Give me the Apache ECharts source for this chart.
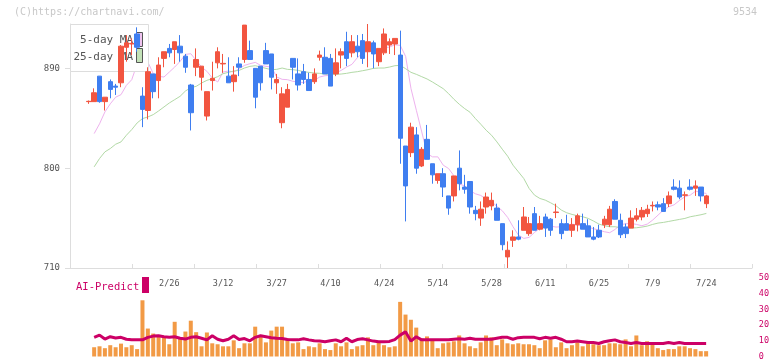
<!DOCTYPE html>
<html>
<head>
<meta charset="utf-8">
<script src="https://cdn.jsdelivr.net/npm/echarts@6/dist/echarts.min.js"></script>
<style>
  html, body { margin: 0; padding: 0; background: #fff; }
  #chart { width: 772px; height: 361px; }
</style>
</head>
<body>
<div id="chart"></div>
<script>
// trading days shown (2026), month -> days
var tradeDays = {
    2: [3,4,5,6,9,10,12,13,16,17,18,19,20,24,25,26,27],
    3: [2,3,4,5,6,9,10,11,12,13,16,17,18,19,23,24,25,26,27,30,31],
    4: [1,2,3,6,7,8,9,10,13,14,15,16,17,20,21,22,23,24,27,28,30],
    5: [1,7,8,11,12,13,14,15,18,19,20,21,22,25,26,27,28,29],
    6: [1,2,3,4,5,8,9,10,11,12,15,16,17,18,19,22,23,24,25,26,29,30],
    7: [1,2,3,6,7,8,9,10,13,14,15,16,17,21,22,23,24]
};
// empty slots on both sides of the chart
var padBefore = ['1/29','1/30','2/2'];
var padAfter = ['7/27','7/28','7/29','7/30','7/31','8/3','8/4','8/5'];
var labelDates = ['2/26','3/12','3/27','4/10','4/24','5/14','5/28','6/11','6/25','7/9','7/24'];

// [open, close, low, high]
var ohlc = [
    [860,860.3,858,861],[860,868,860,872],[883,860,859,883],[860,864,852,864],[878,871,863,880],
    [874,873,866,876],[877,910,873,911],[909,913,896,920],[912,912.5,902,917],[921,909,905,927],
    [865,853,837,873],[852,887,844,891],[885,869,863,885],[879,893,863,900],[899,905,891,905],
    [908,904,900,912],[907,914,894,914],[910,904,896,920],[901,891,886,903],[875,850,834,876],
    [891,898,883,908],[882,892,870,892],[847,869,843,869],[879,881,870,896],[895,905,890,909],
    [894,894.5,886,903],[883,877,877,900],[878,884,869,892],[894,891,883,900],[898,929,895,929],
    [906,898,898,915],[890,864,854,890],[892,877,870,892],[906,894,894,913],[903,882,871,903],
    [877,880,867,885],[841,867,836,873],[855,871,855,876],[899,891,880,899],[885,875,870,899],
    [887,880,876,894],[880,870,870,886],[878,885,876,890],[900,902,897,906],[900,885,885,909],
    [899,874,874,903],[885,895,883,908],[902,905,890,908],[914,899,892,923],[904,914,900,920],
    [910,905,900,920],[915,899,894,921],[905,914,891,930],[913,903,890,915],[896,908,892,908],
    [904,921,902,926],[911,914,903,917],[912,917,902,917],[902,827,804,924],[820,784,752,820],
    [814,837,810,841],[830,800,795,837],[802,817,801,819],[826,808,808,839],[804,794,786,804],
    [789,795,786,795],[795,783,774,800],[775,764,758,775],[775,793,770,793],[800,786,780,816],
    [783,781,777,794],[788,765,759,788],[762,759,753,766],[755,763,748,770],[765,774,759,778],
    [766,771,762,778],[764,753,753,768],[750,731,726,750],[720,726,710,734],[735,738,729,744],
    [738,736,735,753],[744,756,744,765],[741,750,739,756],[759,744,744,765],[745,750,744,757],
    [756,746,738,759],[754,744,739,755],[760,760.5,755,768],[750,741,736,754],[750,744,744,758],
    [744,749,738,755],[749,757,743,759],[750,745,745,759],[748,738,738,754],[738,736,735,747],
    [744,738,737,749],[749,754,746,757],[749,763,747,766],[770,754,754,772],[753,740,737,759],
    [747,741,737,750],[746,755,746,762],[754,757,752,764],[756,762,753,765],[759,763,756,767],
    [766,766.5,761,770],[767,765,762,770],[768,761,761,773],[768,775,765,779],[783,781,780,790],
    [782,774,772,789],[775.5,776,762,779],[783,781,780,790],[782,784,775,789],[783,775,770,783],
    [768,775,764,776]
];

var ma5 = [
    '-',831.2,840,850.7,858,864,866.3,874.7,879.8,894,
    898.7,895.7,885.2,882.8,882.2,886.7,891.2,896.3,902.6,903.2,
    897.2,891.2,887.3,881.3,877.7,886.7,887.6,886.7,889.7,892.7,
    894.2,895.4,892.7,891.8,891.2,882.2,880.1,879.8,878.3,877.7,
    877.1,879.2,879.2,882.2,883.4,883.7,885.8,888.2,891.2,893.6,
    899.6,903.8,905.6,904.7,906.2,908.6,909.2,911.3,910.7,900.8,
    871.7,852.2,832.7,813.2,810.2,810.2,802.7,799.7,793.1,785.6,
    784.1,779.6,776.9,775.4,772.1,770,765.5,761.6,755.6,747.2,
    739.7,736.7,737.6,742.1,745.7,747.2,747.8,746.9,747.2,748.7,
    749.6,748.7,747.8,746.9,745.4,744.2,742.7,741.8,744.8,749,
    749.9,750.2,749.3,748.1,749.6,753.2,757.7,762.2,765.2,767,
    770.9,774.2,775.7,779.3,778.1,777.2
];

var ma25 = [
    '-',801.2,808.7,814.7,817.7,821.6,823.7,829.7,834.8,840.8,
    844.7,846.2,848.3,851.6,855.2,858.8,861.8,864.8,869.6,872.6,
    873.8,876.8,879.2,880.7,882.5,885.2,886.4,887.6,888.2,890.3,
    891.8,892.4,891.2,890,888.8,889.1,890.3,889.1,888.8,888.2,
    887,886.4,885.8,885.5,884.9,884.6,884.6,884.9,885.5,886.4,
    887,887.9,888.8,890,890.3,890.3,891.2,892.4,892.7,889.7,
    886.4,884.6,882.5,880.4,877.7,874.7,871.7,867.2,862.1,857.6,
    853.7,850.4,844.7,839.6,834.2,829.7,823.7,817.1,810.8,802.7,
    796.7,790.7,781.7,775.7,772.7,771.2,768.8,766.1,762.2,759.8,
    758.3,757.1,756.2,754.7,752.3,749.6,748.1,747.2,747.2,746.3,
    745.7,746,746.3,746.9,747.8,749.3,750.5,751.1,752,752.9,
    753.8,754.7,756.2,757.1,758,759.2
];

var volume = [
    '-',5.9,6.5,5.3,7.2,5.9,8.2,5.9,7.2,4.7,
    35.8,17.8,14.6,13.6,12.3,7.8,22.1,11.3,15.9,22.8,
    15.5,6.5,15.3,8.4,7.8,6.5,6.5,10.3,5.3,8.4,
    8.4,19,12.8,9,16.5,19,19,11.5,8.4,9,
    4.7,6.5,5.9,8.4,4.7,4.1,8.4,6.5,9,4.7,
    6.5,7.2,12.2,7.2,9,7.2,5.9,6.5,34.8,26.7,
    23.4,18.4,11.5,12.8,10.3,5.3,8.4,9,9.7,13.4,
    8.4,6.5,5.3,9,13.4,12.2,7.2,10.9,8.4,7.8,
    8.4,7.8,7.8,7.2,5.3,10.3,10.9,5.9,9,5.3,
    7.2,9,6.5,8.4,7.8,7.2,7.2,8.4,8.4,7.8,
    10.9,6.5,13.4,7.2,9.7,7.8,5.3,4.1,4.7,4.7,
    6.5,6.5,5.3,4.7,3.4,3.4
];

var aiPredict = [
    '-',12.2,13.6,11.1,12.6,11.8,12.2,11.0,10.6,10.6,
    10.6,12.2,13.0,13.2,12.6,12.2,12.6,11.6,11.1,12.2,
    12.6,11.6,10.6,13.2,11.0,10.0,11.0,13.2,10.8,11.4,
    10.0,12.2,13.2,12.6,12.0,11.6,11.4,10.8,10.6,10.6,
    11.3,10.6,10.0,9.8,9.4,10.0,10.6,9.4,11.6,9.4,
    10.8,11.3,10.6,9.8,9.4,9.4,9.6,10.8,13.6,15.7,
    9.8,12.6,10.6,10.6,10.6,10.6,10.6,10.6,11.0,11.3,
    11.0,11.6,11.0,11.0,11.0,11.0,11.6,12.2,12.2,11.0,
    12.0,12.2,12.2,12.2,11.3,12.2,11.6,12.2,11.0,9.4,
    9.4,9.8,9.4,8.9,8.9,8.3,9.4,10.0,10.6,9.4,
    8.9,8.3,8.9,8.3,8.3,8.3,8.3,8.3,8.9,8.3,
    8.9,8.3,8.3,8.3,8.3,8.3
];

var priceTicks = [710, 800, 890];

// ---- build category list and padded series ----
var dates = [];
Object.keys(tradeDays).forEach(function (m) {
    tradeDays[m].forEach(function (d) { dates.push(m + '/' + d); });
});
var categories = padBefore.concat(dates, padAfter);

function pad(arr) {
    var a = padBefore.map(function () { return '-'; });
    var b = padAfter.map(function () { return '-'; });
    return a.concat(arr, b);
}

var MONO = '"DejaVu Sans Mono", monospace';
var RED = '#f25540';
var BLUE = '#3f7ef0';
var AI_COLOR = '#cc0066';

var myChart = echarts.init(document.getElementById('chart'));

var option = {
    animation: false,
    backgroundColor: '#fff',
    grid: [
        { left: 70, right: 20, top: 24, height: 244 },
        { left: 70, right: 20, top: 278, height: 80 }
    ],
    xAxis: [
        {
            type: 'category',
            gridIndex: 0,
            data: categories,
            boundaryGap: true,
            axisLine: { lineStyle: { color: '#dddddd' } },
            axisTick: { show: false },
            axisLabel: {
                margin: 11,
                color: '#555',
                fontFamily: MONO,
                fontSize: 8.5,
                interval: function (index, value) {
                    return labelDates.indexOf(value) >= 0;
                }
            },
            splitLine: { show: false }
        },
        {
            // regular tick marks along the bottom of the price panel
            type: 'value',
            gridIndex: 0,
            position: 'bottom',
            min: 0,
            max: 11,
            interval: 1,
            axisLine: { show: false },
            axisTick: { show: true, inside: true, length: 4, lineStyle: { color: '#dddddd' } },
            axisLabel: { show: false },
            splitLine: { show: false }
        },
        {
            type: 'category',
            gridIndex: 1,
            data: categories,
            boundaryGap: true,
            show: false
        }
    ],
    yAxis: [
        {
            type: 'value',
            gridIndex: 0,
            min: 710,
            max: 930,
            axisLine: { show: true, lineStyle: { color: '#dddddd' } },
            axisTick: { show: true, length: 5, customValues: priceTicks, lineStyle: { color: '#dddddd' } },
            axisLabel: {
                customValues: priceTicks,
                margin: 10,
                color: '#555',
                fontFamily: MONO,
                fontSize: 9
            },
            splitLine: { show: false }
        },
        {
            type: 'value',
            gridIndex: 1,
            position: 'right',
            min: 0,
            max: 50,
            interval: 10,
            axisLine: { show: false },
            axisTick: { show: false },
            axisLabel: {
                margin: 7,
                color: AI_COLOR,
                fontFamily: MONO,
                fontSize: 8.5
            },
            splitLine: { show: false }
        }
    ],
    graphic: [
        {
            type: 'text', x: 14, y: 12, z: 1,
            style: { text: '(C)https://chartnavi.com/', fill: '#c8c8c8', font: '10px ' + MONO, textVerticalAlign: 'middle' }
        },
        {
            type: 'text', x: 757, y: 12, z: 1,
            style: { text: '9534', fill: '#c8c8c8', font: '10px ' + MONO, textAlign: 'right', textVerticalAlign: 'middle' }
        },
        // MA legend box (behind the candles, over the MA lines)
        {
            type: 'rect', z: 5,
            shape: { x: 70.5, y: 24.5, width: 78, height: 47 },
            style: { fill: '#fff', stroke: '#dddddd', lineWidth: 1 }
        },
        {
            type: 'text', x: 133, y: 40, z: 6,
            style: { text: '5-day MA', fill: '#555', font: '11px ' + MONO, textAlign: 'right', textVerticalAlign: 'middle' }
        },
        {
            type: 'text', x: 133, y: 57, z: 6,
            style: { text: '25-day MA', fill: '#555', font: '11px ' + MONO, textAlign: 'right', textVerticalAlign: 'middle' }
        },
        {
            type: 'rect', z: 6,
            shape: { x: 136.5, y: 32.5, width: 6, height: 14 },
            style: { fill: '#efc3ef', stroke: '#555', lineWidth: 1 }
        },
        {
            type: 'rect', z: 6,
            shape: { x: 136.5, y: 48.5, width: 6, height: 14 },
            style: { fill: '#c3e2b8', stroke: '#555', lineWidth: 1 }
        },
        // AI-Predict legend
        {
            type: 'text', x: 76, y: 287, z: 6,
            style: { text: 'AI-Predict', fill: AI_COLOR, font: '10.5px ' + MONO, textVerticalAlign: 'middle' }
        },
        {
            type: 'rect', z: 6,
            shape: { x: 142, y: 277, width: 7, height: 16 },
            style: { fill: AI_COLOR }
        }
    ],
    series: [
        {
            name: '5-day MA',
            type: 'line',
            xAxisIndex: 0,
            yAxisIndex: 0,
            data: pad(ma5),
            showSymbol: false,
            z: 2,
            lineStyle: { color: '#eeb2ee', width: 1 }
        },
        {
            name: '25-day MA',
            type: 'line',
            xAxisIndex: 0,
            yAxisIndex: 0,
            data: pad(ma25),
            showSymbol: false,
            z: 2,
            lineStyle: { color: '#b2d9a6', width: 1 }
        },
        {
            name: 'price',
            type: 'candlestick',
            xAxisIndex: 0,
            yAxisIndex: 0,
            data: pad(ohlc),
            barWidth: 5,
            z: 10,
            itemStyle: {
                color: RED,
                color0: BLUE,
                borderColor: RED,
                borderColor0: BLUE,
                borderWidth: 1
            }
        },
        {
            name: 'volume',
            type: 'bar',
            xAxisIndex: 2,
            yAxisIndex: 1,
            data: pad(volume),
            barWidth: 4,
            itemStyle: { color: '#f29a45' }
        },
        {
            name: 'AI-Predict',
            type: 'line',
            xAxisIndex: 2,
            yAxisIndex: 1,
            data: pad(aiPredict),
            showSymbol: false,
            z: 3,
            lineStyle: { color: AI_COLOR, width: 3 }
        }
    ]
};

myChart.setOption(option);
</script>
</body>
</html>
